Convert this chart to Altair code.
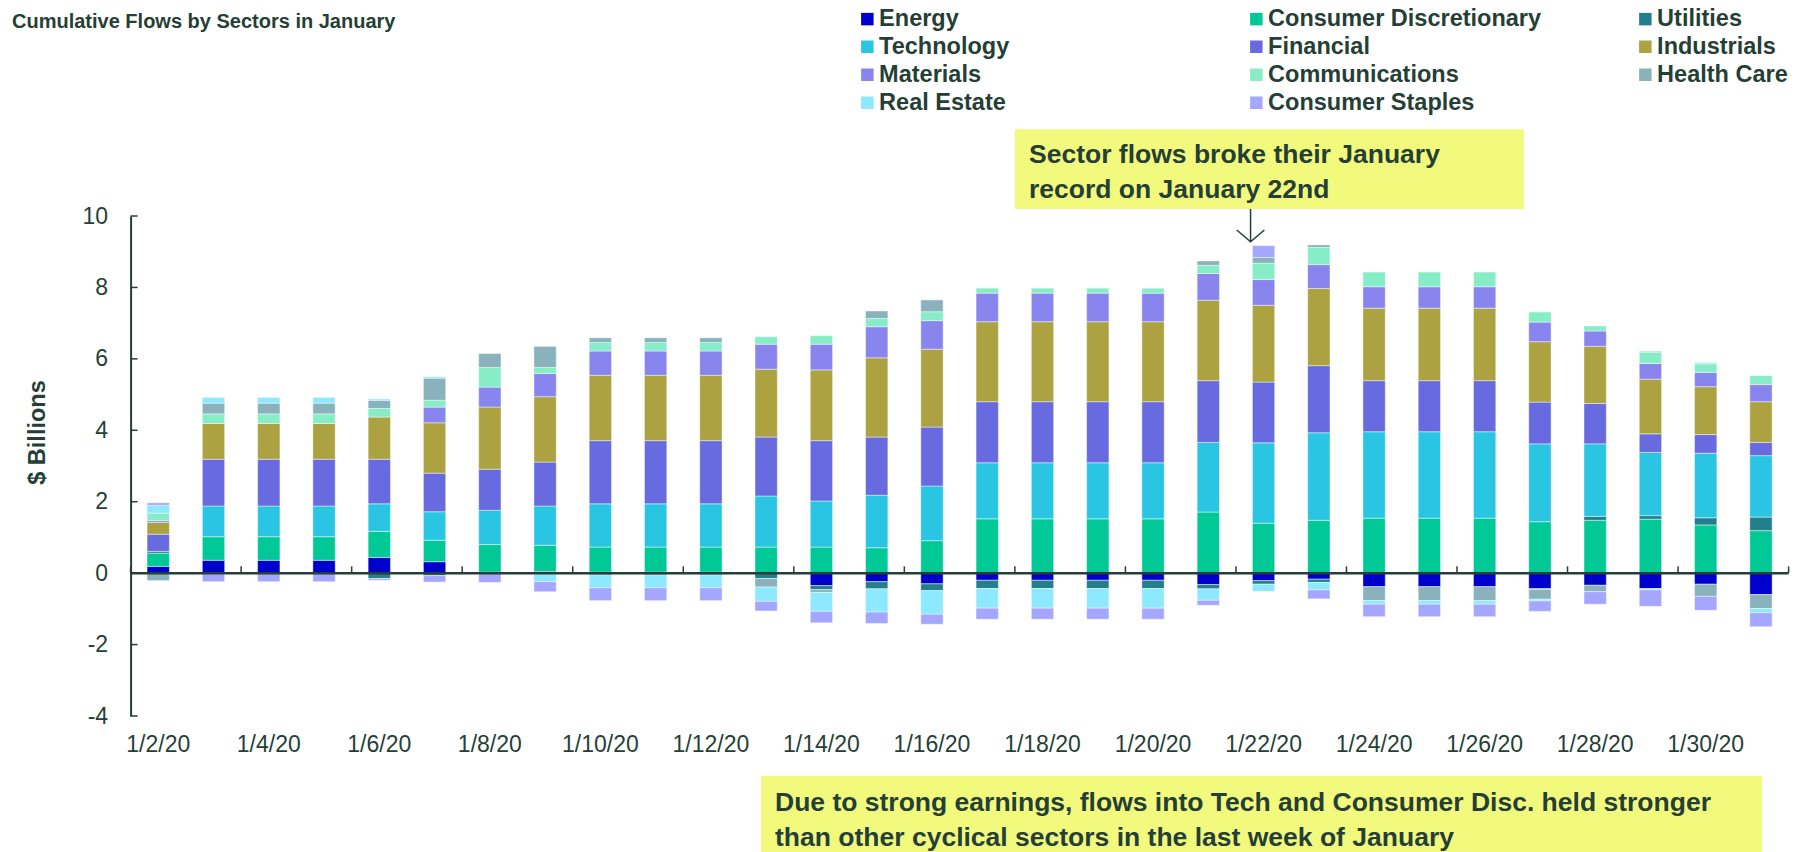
import altair as alt
import pandas as pd

# ---------------- data ----------------
dates = ["1/2/20", "1/3/20", "1/4/20", "1/5/20", "1/6/20", "1/7/20", "1/8/20", "1/9/20",
         "1/10/20", "1/11/20", "1/12/20", "1/13/20", "1/14/20", "1/15/20", "1/16/20",
         "1/17/20", "1/18/20", "1/19/20", "1/20/20", "1/21/20", "1/22/20", "1/23/20",
         "1/24/20", "1/25/20", "1/26/20", "1/27/20", "1/28/20", "1/29/20", "1/30/20", "1/31/20"]
label_dates = ["1/2/20", "1/4/20", "1/6/20", "1/8/20", "1/10/20", "1/12/20", "1/14/20", "1/16/20",
               "1/18/20", "1/20/20", "1/22/20", "1/24/20", "1/26/20", "1/28/20", "1/30/20"]
last_date = ["1/31/20"]
y_ticks = [-4, -2, 0, 2, 4, 6, 8, 10]

sectors = ["Energy", "Consumer Discretionary", "Utilities", "Technology", "Financial",
           "Industrials", "Materials", "Communications", "Health Care", "Real Estate",
           "Consumer Staples"]
colors = ["#0000CC", "#00C896", "#237F8C", "#2AC5E2", "#686BE0", "#ACA241",
          "#8886EE", "#86EDC6", "#89B2BC", "#8CE9FF", "#A4A6FF"]

energy = [0.19, 0.36, 0.36, 0.36, 0.44, 0.32, 0.03, 0.05, 0.03, 0.03, 0.03, 0.0, -0.35, -0.24, -0.30,
          -0.20, -0.20, -0.20, -0.20, -0.32, -0.21, -0.17, -0.38, -0.38, -0.38, -0.43, -0.34, -0.43, -0.31, -0.60]
cons_disc = [0.37, 0.66, 0.66, 0.66, 0.73, 0.60, 0.77, 0.73, 0.70, 0.70, 0.70, 0.73, 0.73, 0.71, 0.91,
             1.52, 1.52, 1.52, 1.52, 1.71, 1.40, 1.48, 1.54, 1.54, 1.54, 1.44, 1.48, 1.51, 1.35, 1.19]
utilities = [0.05, 0.0, 0.0, 0.0, -0.15, -0.07, 0.0, -0.02, -0.05, -0.05, -0.05, -0.15, -0.11, -0.20, -0.19,
             -0.23, -0.23, -0.23, -0.23, -0.12, -0.10, -0.09, 0.0, 0.0, 0.0, -0.03, 0.11, 0.10, 0.20, 0.38]
technology = [0.0, 0.86, 0.86, 0.86, 0.77, 0.80, 0.96, 1.10, 1.21, 1.21, 1.21, 1.43, 1.29, 1.47, 1.53,
              1.57, 1.57, 1.57, 1.57, 1.95, 2.25, 2.45, 2.42, 2.42, 2.42, 2.18, 2.03, 1.77, 1.81, 1.72]
financial = [0.48, 1.31, 1.31, 1.31, 1.25, 1.08, 1.15, 1.23, 1.77, 1.77, 1.77, 1.65, 1.69, 1.63, 1.65,
             1.71, 1.71, 1.71, 1.71, 1.73, 1.70, 1.88, 1.43, 1.43, 1.43, 1.17, 1.13, 0.52, 0.52, 0.37]
industrials = [0.33, 1.00, 1.00, 1.00, 1.18, 1.41, 1.74, 1.83, 1.83, 1.83, 1.83, 1.90, 1.98, 2.22, 2.18,
               2.24, 2.24, 2.24, 2.24, 2.25, 2.15, 2.16, 2.03, 2.03, 2.03, 1.69, 1.60, 1.53, 1.34, 1.14]
materials = [0.05, 0.0, 0.0, 0.0, 0.0, 0.44, 0.56, 0.65, 0.68, 0.68, 0.68, 0.70, 0.72, 0.87, 0.80,
             0.80, 0.80, 0.80, 0.80, 0.75, 0.72, 0.67, 0.60, 0.60, 0.60, 0.55, 0.43, 0.44, 0.40, 0.48]
communications = [0.21, 0.27, 0.27, 0.27, 0.24, 0.19, 0.55, 0.17, 0.24, 0.24, 0.24, 0.21, 0.24, 0.23, 0.25,
                  0.14, 0.14, 0.14, 0.14, 0.23, 0.46, 0.48, 0.41, 0.41, 0.41, 0.28, 0.14, 0.31, 0.24, 0.25]
health_care = [-0.21, 0.30, 0.30, 0.30, 0.23, 0.62, 0.39, 0.59, 0.13, 0.13, 0.13, -0.24, -0.08, 0.21, 0.33,
               0.0, 0.0, 0.0, 0.0, 0.12, 0.16, 0.07, -0.39, -0.39, -0.39, -0.27, -0.18, 0.03, -0.34, -0.39]
real_estate = [0.22, 0.16, 0.16, 0.16, 0.04, 0.04, 0.0, -0.22, -0.36, -0.36, -0.36, -0.40, -0.53, -0.65, -0.66,
               -0.55, -0.55, -0.55, -0.55, -0.32, -0.20, -0.21, -0.10, -0.10, -0.10, -0.05, 0.0, -0.04, 0.04, -0.12]
cons_staples = [0.07, -0.24, -0.24, -0.24, -0.05, -0.18, -0.26, -0.28, -0.36, -0.36, -0.36, -0.27, -0.32, -0.32, -0.28,
                -0.31, -0.31, -0.31, -0.31, -0.14, 0.33, -0.25, -0.35, -0.35, -0.35, -0.29, -0.35, -0.46, -0.39, -0.39]

series = [energy, cons_disc, utilities, technology, financial, industrials, materials,
          communications, health_care, real_estate, cons_staples]

title_text = "Cumulative Flows by Sectors in January"
note_top = "Sector flows broke their January\nrecord on January 22nd"
note_bottom = ("Due to strong earnings, flows into Tech and Consumer Disc. held stronger\n"
               "than other cyclical sectors in the last week of January")

rows = []
for k, (s, vals) in enumerate(zip(sectors, series)):
    for d, v in zip(dates, vals):
        if v != 0:
            rows.append({"date": d, "sector": s, "value": v, "order": k})
df = pd.DataFrame(rows)

# ---------------- style ----------------
FONT = "Liberation Sans"
DARK = "#263F36"
YELLOW = "#F2FA7E"

xscale = alt.Scale(domain=dates, paddingInner=0, paddingOuter=0)
yscale = alt.Scale(domain=[-4, 10], nice=False, zero=False)

bars = alt.Chart(df).mark_bar(
    width=alt.RelativeBandSize(0.404), stroke="white", strokeWidth=0.8, strokeOpacity=0.55
).encode(
    x=alt.X("date:N", scale=xscale, title=None,
            axis=alt.Axis(values=label_dates, domain=False, ticks=False, tickSize=0, grid=False,
                          labelAngle=0, labelFont=FONT, labelFontSize=23, labelColor=DARK,
                          labelPadding=17, labelOverlap=False)),
    y=alt.Y("value:Q", stack="zero", scale=yscale, title="$ Billions",
            axis=alt.Axis(values=y_ticks, domain=True, domainColor=DARK, domainWidth=2,
                          ticks=False, tickSize=0, grid=False, labelFont=FONT, labelFontSize=23,
                          labelColor=DARK, labelPadding=23, labelExpr="toString(datum.value)",
                          titleFont=FONT, titleFontSize=23.5,
                          titleFontWeight="bold", titleColor=DARK, titleAngle=-90,
                          titleX=-93.6, titleY=216, titleAlign="center", titleBaseline="middle")),
    color=alt.Color("sector:N", scale=alt.Scale(domain=sectors, range=colors), title=None,
                    legend=alt.Legend(orient="none", legendX=725, legendY=-209, columns=3,
                                      direction="horizontal",
                                      symbolType="square", symbolSize=156, symbolStrokeWidth=0,
                                      labelFont=FONT, labelFontSize=23.5, labelFontWeight="bold",
                                      labelColor=DARK, labelOffset=0, labelLimit=400,
                                      columnPadding=92, rowPadding=3.0, gridAlign="all", padding=0)),
    order=alt.Order("order:Q", sort="ascending"),
)

zero_line = alt.Chart(pd.DataFrame({"value": [0]})).mark_rule(color=DARK, strokeWidth=2.5).encode(
    y=alt.Y("value:Q", scale=yscale)
)

x_ticks = alt.Chart(pd.DataFrame({"date": label_dates, "value": 0, "top": 0.19})).mark_rule(
    color=DARK, strokeWidth=1.5
).encode(
    x=alt.X("date:N", scale=xscale, bandPosition=0),
    y=alt.Y("value:Q", scale=yscale),
    y2="top:Q",
)
x_end_tick = alt.Chart(pd.DataFrame({"date": last_date, "value": 0, "top": 0.19})).mark_rule(
    color=DARK, strokeWidth=1.5
).encode(
    x=alt.X("date:N", scale=xscale, bandPosition=1),
    y=alt.Y("value:Q", scale=yscale),
    y2="top:Q",
)

y_tick_marks = alt.Chart(pd.DataFrame({"value": y_ticks})).mark_rule(color=DARK, strokeWidth=1.5).encode(
    y=alt.Y("value:Q", scale=yscale),
    x=alt.value(0),
    x2=alt.value(7),
)

title = alt.Chart(pd.DataFrame({"t": [title_text]})).mark_text(
    align="left", baseline="alphabetic", font=FONT, fontSize=20, fontWeight="bold", color=DARK
).encode(text="t:N", x=alt.value(-118.6), y=alt.value(-188))

box_top = alt.Chart(pd.DataFrame({"a": [0]})).mark_rect(color=YELLOW).encode(
    x=alt.value(884.4), x2=alt.value(1393.4), y=alt.value(-86.7), y2=alt.value(-7)
)
text_top = alt.Chart(pd.DataFrame({"t": [note_top]})).mark_text(
    align="left", baseline="alphabetic", font=FONT, fontSize=26.5, fontWeight="bold", color=DARK,
    lineBreak="\n", lineHeight=35.2
).encode(text="t:N", x=alt.value(898.4), y=alt.value(-52.7))

arrow = alt.Chart(pd.DataFrame({"date": ["1/22/20"]})).mark_rule(
    color=DARK, strokeWidth=1.5, xOffset=-13
).encode(x=alt.X("date:N", scale=xscale), y=alt.value(-7), y2=alt.value(25.7))
arrow_head = alt.Chart(pd.DataFrame({"date": ["1/22/20"]})).mark_point(
    shape="M-1,-0.85L0,0L1,-0.85", size=762, filled=False, color=DARK, strokeWidth=1.5,
    opacity=1, xOffset=-13
).encode(x=alt.X("date:N", scale=xscale), y=alt.value(25.7))

box_bottom = alt.Chart(pd.DataFrame({"a": [0]})).mark_rect(color=YELLOW).encode(
    x=alt.value(630.4), x2=alt.value(1631.4), y=alt.value(560), y2=alt.value(640)
)
text_bottom = alt.Chart(pd.DataFrame({"t": [note_bottom]})).mark_text(
    align="left", baseline="alphabetic", font=FONT, fontSize=26.5, fontWeight="bold", color=DARK,
    lineBreak="\n", lineHeight=35
).encode(text="t:N", x=alt.value(644.4), y=alt.value(595))

chart = alt.layer(
    bars, zero_line, x_ticks, x_end_tick, y_tick_marks, title,
    box_top, text_top, arrow, arrow_head, box_bottom, text_bottom
).properties(
    width=1658, height=500,
    padding={"left": 122.6, "top": 208, "right": 11.4, "bottom": 136},
    autosize=alt.AutoSizeParams(type="none"),
    background="white",
).configure_view(strokeWidth=0)

chart.save("out.html", embed_options={"renderer": "svg", "actions": False})
